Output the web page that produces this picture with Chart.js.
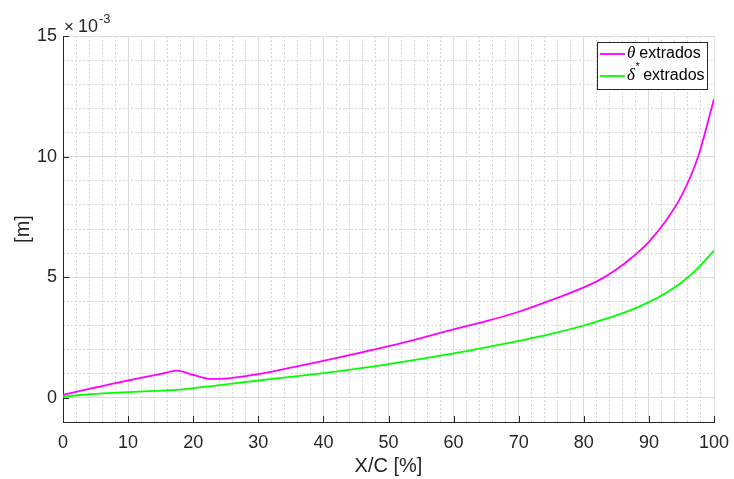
<!DOCTYPE html>
<html><head><meta charset="utf-8">
<script src="https://cdn.jsdelivr.net/npm/chart.js@4/dist/chart.umd.min.js"></script>
<style>html,body{margin:0;padding:0;background:#fff;}#wrap{width:734px;height:479px;}</style>
</head><body><div id="wrap"><canvas id="c" width="734" height="479"></canvas></div>
<script>
// X/C [%]
const xValues = [0, 2.5, 5, 7.5, 10, 12.5, 15, 17.5, 20, 22.5, 25, 27.5, 30, 35, 40, 45, 50, 55, 60, 65, 70, 75, 80, 82.5, 85, 87.5, 90, 92.5, 95, 97.5, 100];
// theta extrados (x 1e-3 m)
const thetaValues = [0.12, 0.28, 0.43, 0.58, 0.72, 0.86, 0.99, 1.13, 0.95, 0.79, 0.80, 0.88, 0.98, 1.25, 1.53, 1.83, 2.14, 2.48, 2.84, 3.18, 3.57, 4.05, 4.58, 4.90, 5.32, 5.84, 6.47, 7.30, 8.37, 9.95, 12.38];
// delta* extrados (x 1e-3 m)
const deltaValues = [0.05, 0.12, 0.17, 0.21, 0.24, 0.27, 0.30, 0.33, 0.40, 0.48, 0.56, 0.64, 0.72, 0.87, 1.03, 1.20, 1.40, 1.62, 1.84, 2.09, 2.36, 2.65, 3.00, 3.20, 3.42, 3.67, 3.97, 4.33, 4.78, 5.37, 6.10];
const xMajorTicks = [0, 10, 20, 30, 40, 50, 60, 70, 80, 90, 100];
const yMajorTicks = [0, 5, 10, 15];
const seriesLabels = ['θ extrados', 'δ* extrados'];
const legendSymbols = ['θ', 'δ'];
const legendSup = ['', '*'];
const legendWord = 'extrados';

const FONT = "'Liberation Sans', Arial, Helvetica, sans-serif";
const AX = '#262626';

const decorPlugin = {
  id: 'decor',
  afterDatasetsDraw(chart) {
    const ctx = chart.ctx;
    const a = chart.chartArea;
    const xs = chart.scales.x, ys = chart.scales.y;
    ctx.save();
    ctx.strokeStyle = AX;
    ctx.lineWidth = 1;
    const tl = 6;
    ctx.beginPath();
    xMajorTicks.forEach(v => {
      const px = Math.round(xs.getPixelForValue(v)) + 0.5;
      ctx.moveTo(px, a.bottom); ctx.lineTo(px, a.bottom - tl);
    });
    yMajorTicks.forEach(v => {
      const py = Math.round(ys.getPixelForValue(v)) + 0.5;
      ctx.moveTo(a.left, py); ctx.lineTo(a.left + tl, py);
    });
    ctx.stroke();

    // exponent label
    ctx.fillStyle = AX;
    ctx.textBaseline = 'alphabetic';
    ctx.textAlign = 'left';
    ctx.font = '17px ' + FONT;
    ctx.fillText('×', a.left + 1, 32);
    ctx.font = '18px ' + FONT;
    ctx.fillText('10', a.left + 15, 32);
    ctx.font = '13px ' + FONT;
    ctx.fillText('-3', a.left + 36, 23);

    // legend
    const bx = 597.5, by = 42.5, bw = 110, bh = 47;
    ctx.fillStyle = '#fff';
    ctx.fillRect(bx, by, bw, bh);
    ctx.strokeStyle = AX;
    ctx.lineWidth = 1;
    ctx.strokeRect(bx, by, bw, bh);
    const rows = [54, 76];
    chart.data.datasets.forEach((ds, i) => {
      const y = rows[i];
      ctx.strokeStyle = ds.borderColor;
      ctx.lineWidth = 1.8;
      ctx.beginPath();
      ctx.moveTo(600, y); ctx.lineTo(625, y);
      ctx.stroke();
      ctx.fillStyle = '#000';
      ctx.textBaseline = 'middle';
      ctx.font = 'italic 17px "Liberation Serif", "DejaVu Serif", serif';
      ctx.fillText(legendSymbols[i], 627, y);
      let x = 627 + ctx.measureText(legendSymbols[i]).width;
      if (legendSup[i]) {
        ctx.font = '11px ' + FONT;
        ctx.fillText(legendSup[i], x + 0.5, y - 9);
        x += ctx.measureText(legendSup[i]).width + 4;
      } else {
        x += 4;
      }
      ctx.font = '16px ' + FONT;
      ctx.fillText(legendWord, x, y);
    });
    ctx.restore();
  }
};

const minorGrid = { color: '#d6d6d6', lineWidth: 1, drawTicks: false };
const minorBorder = { display: false, dash: [2, 2] };

new Chart(document.getElementById('c'), {
  type: 'line',
  data: {
    datasets: [
      { label: seriesLabels[0], data: xValues.map((x, i) => ({ x, y: thetaValues[i] })),
        borderColor: '#ff00ff', borderWidth: 1.8, pointRadius: 0, cubicInterpolationMode: 'monotone', fill: false },
      { label: seriesLabels[1], data: xValues.map((x, i) => ({ x, y: deltaValues[i] })),
        borderColor: '#00ff00', borderWidth: 1.8, pointRadius: 0, cubicInterpolationMode: 'monotone', fill: false }
    ]
  },
  options: {
    responsive: false,
    animation: false,
    devicePixelRatio: 1,
    layout: { padding: { left: 0, top: 36, right: 20, bottom: 0 } },
    plugins: { legend: { display: false }, tooltip: { enabled: false } },
    scales: {
      xMinor: {
        type: 'linear', position: 'bottom', min: 0, max: 100, weight: 0,
        ticks: { display: false, stepSize: 2 },
        grid: minorGrid, border: minorBorder,
        afterFit: s => { s.height = 0; s.paddingLeft = 0; s.paddingRight = 0; }
      },
      yMinor: {
        type: 'linear', position: 'left', min: -1, max: 15, weight: 0,
        ticks: { display: false, stepSize: 1 },
        grid: minorGrid, border: minorBorder,
        afterFit: s => { s.width = 0; s.paddingTop = 0; s.paddingBottom = 0; }
      },
      x: {
        type: 'linear', position: 'bottom', min: 0, max: 100, weight: 1,
        afterBuildTicks: s => { s.ticks = xMajorTicks.map(v => ({ value: v })); },
        ticks: { color: AX, font: { family: FONT, size: 18 }, padding: 10, maxRotation: 0, autoSkip: false },
        grid: { color: '#dcdcdc', lineWidth: 1, drawTicks: false },
        border: { display: true, color: AX, width: 1 },
        title: { display: true, text: 'X/C [%]', color: AX, font: { family: FONT, size: 20 }, padding: { top: 0, bottom: 1 } },
        afterFit: s => { s.height = 57; s.paddingLeft = 0; s.paddingRight = 0; }
      },
      y: {
        type: 'linear', position: 'left', min: -1, max: 15, weight: 1,
        afterBuildTicks: s => { s.ticks = yMajorTicks.map(v => ({ value: v })); },
        ticks: { color: AX, font: { family: FONT, size: 18 }, padding: 6, autoSkip: false },
        grid: { color: '#dcdcdc', lineWidth: 1, drawTicks: false },
        border: { display: true, color: AX, width: 1 },
        title: { display: true, text: '[m]', color: AX, font: { family: FONT, size: 20 }, padding: { top: 11, bottom: 0 } },
        afterFit: s => { s.width = 63; s.paddingTop = 0; s.paddingBottom = 0; }
      }
    }
  },
  plugins: [decorPlugin]
});
</script>
</body></html>
